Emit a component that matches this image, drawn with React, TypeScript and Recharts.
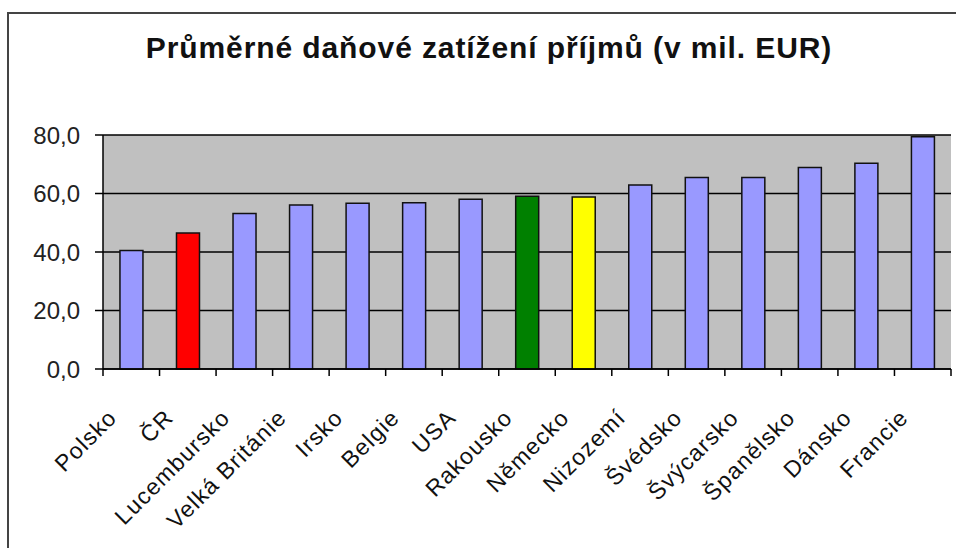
import React from "react";
import { BarChart, Bar, XAxis, YAxis, CartesianGrid, Cell } from "recharts";

const categories = [
  "Polsko", "ČR", "Lucembursko", "Velká Británie", "Irsko", "Belgie", "USA",
  "Rakousko", "Německo", "Nizozemí", "Švédsko", "Švýcarsko", "Španělsko", "Dánsko", "Francie",
];
const values = [40.5, 46.5, 53.2, 56.1, 56.7, 56.8, 58.0, 59.1, 58.8, 62.9, 65.5, 65.5, 68.9, 70.3, 79.4];
const yTicks = [0, 20, 40, 60, 80];
const highlight: Record<string, string> = { "ČR": "#FF0000", "Rakousko": "#008000", "Německo": "#FFFF00" };

const title = "Průměrné daňové zatížení příjmů (v mil. EUR)";

const data = categories.map((c, i) => ({ name: c, value: values[i] }));

const W = 956;
const H = 548;
const M = { top: 135, right: 5, left: 8, bottom: 0 };
const Y_W = 95;
const PLOT_W = W - M.left - M.right - Y_W;
const STEP = PLOT_W / categories.length;
const FONT = "'Liberation Sans', Arial, sans-serif";

const XTick = (props: any) => {
  const { x, y, payload, index } = props;
  const half = STEP / 2;
  return (
    <g>
      <line x1={x - half} y1={y} x2={x - half} y2={y + 7} stroke="#000" strokeWidth={1.5} />
      {index === categories.length - 1 && (
        <line x1={x + half} y1={y} x2={x + half} y2={y + 7} stroke="#000" strokeWidth={1.5} />
      )}
      <text
        transform={`translate(${x - 13},${y + 50}) rotate(-45)`}
        textAnchor="end"
        fontFamily={FONT}
        fontSize={23}
        letterSpacing={1.2}
        fill="#111"
      >
        {payload.value}
      </text>
    </g>
  );
};

export default function App() {
  return (
    <div style={{ position: "absolute", left: 0, top: 0, width: W, height: H, overflow: "hidden", background: "#fff" }}>
      <div
        style={{
          position: "absolute", left: 7, top: 12, width: W + 20, height: H + 20,
          borderLeft: "2px solid #444", borderTop: "2px solid #444", boxSizing: "border-box",
        }}
      />
      <div
        style={{
          position: "absolute", left: 0, width: 978, top: 31, textAlign: "center",
          fontFamily: FONT, fontSize: 30, fontWeight: "bold", letterSpacing: 0.9, color: "#111", lineHeight: "34px",
        }}
      >
        {title}
      </div>
      <div style={{ position: "absolute", left: 0, top: 0 }}>
        <BarChart width={W} height={H} data={data} margin={M} barCategoryGap="30%">
          <CartesianGrid vertical={false} fill="#C0C0C0" fillOpacity={1} stroke="#000" strokeWidth={1.5} />
          <XAxis
            dataKey="name"
            interval={0}
            tickLine={false}
            tickSize={0}
            tickMargin={0}
            height={H - M.top - 234}
            axisLine={{ stroke: "#000", strokeWidth: 1.5 }}
            tick={<XTick />}
          />
          <YAxis
            width={Y_W}
            domain={[0, 80]}
            ticks={yTicks}
            interval={0}
            tickSize={8}
            tickMargin={15}
            tickFormatter={(v: number) => v.toFixed(1).replace(".", ",")}
            axisLine={{ stroke: "#000", strokeWidth: 1.5 }}
            tickLine={{ stroke: "#000", strokeWidth: 1.5 }}
            tick={{ fontFamily: FONT, fontSize: 24, fill: "#222" }}
          />
          <Bar dataKey="value" stroke="#111" strokeWidth={1.5} isAnimationActive={false}>
            {data.map((d) => (
              <Cell key={d.name} fill={highlight[d.name] || "#9999FF"} />
            ))}
          </Bar>
        </BarChart>
      </div>
    </div>
  );
}
